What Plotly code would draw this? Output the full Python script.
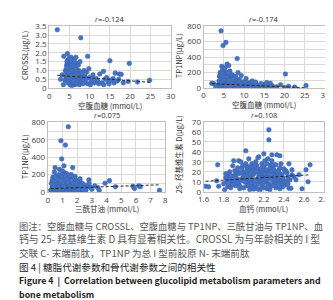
import plotly.graph_objects as go

W, H = 333, 300

# ---------------- data ----------------
fbg1 = [4.6,4.8,5.0,5.2,5.4,5.6,5.8,6.0,6.2,6.4,6.6,4.7,5.1,5.5,5.9,6.3,4.9,5.3,5.7,6.1,6.5,6.9,7.1,7.3,7.5,7.7,4.4,4.2,4.0,3.9,4.3,4.6,5.0,5.4,5.8,6.2,6.8,7.2,6.7,7.0,7.8,8.0,8.2,8.5,8.8,9.0,9.3,9.6,10.0,10.4,10.8,11.2,11.6,12.0,12.5,13.0,13.4,13.8,14.2,14.6,15.2,15.8,16.3,16.8,17.3,17.8,18.3,19.5,21.8,24.8,2.0,7.8,9.5,15.0,19.8,3.6,4.5,5.2,5.6,6.3,4.8,5.3,5.9,6.5,5.1,5.7,6.0,4.5,6.8,7.4,8.3,3.5,3.2,2.8,8.6,9.2,10.2,11.0,12.2,13.5,14.8,16.0,17.2,9.8,7.6,6.6,5.0,
        4.2,4.4,4.6,4.8,5.0,5.2,5.4,5.6,5.8,6.0,6.2,6.4,6.6,6.8,7.0,4.3,4.5,4.7,4.9,5.1,5.3,5.5,5.7,5.9,6.1,6.3,6.5,6.7,6.9,7.1,4.4,4.8,5.2,5.6,6.0,6.4,6.8,7.2,5.0,5.4,5.8,6.2,6.6,5.3,5.7,6.1,4.6,5.0,5.5,6.0]
crossl = [0.5,0.7,0.9,1.1,0.6,0.8,1.0,0.5,0.7,0.9,1.2,1.0,1.3,1.5,1.3,1.4,0.35,0.3,0.4,0.3,0.45,0.6,0.8,1.0,0.5,0.7,0.8,0.6,1.0,0.45,1.3,1.6,1.7,1.75,1.6,1.65,1.4,1.3,1.0,0.3,0.35,0.9,0.6,0.45,0.7,0.3,0.55,0.25,0.6,0.4,0.75,0.3,0.55,0.4,0.8,0.3,0.95,0.5,0.6,0.35,0.45,0.55,0.85,0.4,0.8,0.78,0.3,0.38,0.35,0.45,3.3,2.85,1.8,1.55,1.4,1.8,1.95,0.2,0.15,0.2,1.25,0.95,0.7,0.6,0.55,1.15,0.95,0.4,0.25,0.2,0.25,0.2,0.75,0.5,1.0,0.9,0.2,0.45,0.25,0.2,0.25,0.3,0.5,1.1,1.5,1.75,1.45,
          0.9,0.6,1.2,0.45,1.05,0.75,1.35,0.5,0.85,1.15,0.4,1.25,0.55,0.95,0.65,1.15,0.75,0.55,1.45,0.65,1.2,1.0,0.6,1.4,0.8,0.55,1.0,0.8,0.4,0.5,1.5,0.85,0.45,1.3,0.7,1.05,0.7,0.6,1.55,0.45,0.25,1.5,0.35,1.6,0.3,1.25,0.3,0.6,0.7,0.35]

fbg2 = [4.3,4.8,5.5,8.3,5.8,6.2,4.5,20.2,25.3,2.0,2.5,4.0,4.2,4.4,4.6,4.8,5.0,5.2,5.4,5.6,5.8,6.0,6.2,6.4,6.6,6.8,7.0,7.2,7.4,7.6,7.8,8.0,8.2,8.4,8.6,8.8,9.0,3.6,3.8,3.9,4.1,4.7,5.1,5.3,5.5,5.7,5.9,6.1,6.3,6.5,6.9,7.1,7.3,4.5,5.0,6.0,7.0,8.0,9.0,9.4,9.8,10.2,10.6,11.0,11.4,11.8,12.2,12.6,13.0,13.5,14.0,14.5,15.0,15.5,16.0,16.5,17.0,18.0,19.0,20.0,21.0,22.5,3.0,4.9,5.3,5.7,6.7,7.5,8.5,9.3,10.5,12.0,4.6,5.6,6.6,7.8,12.8,14.2,15.6,
        4.2,4.4,4.6,4.8,5.0,5.2,5.4,5.6,5.8,6.0,6.2,6.4,6.6,6.8,7.0,7.2,7.4,7.6,7.8,8.0,4.3,4.7,5.1,5.5,5.9,6.3,6.7,7.1,7.5,7.9,4.5,4.9,5.3,5.7,6.1,6.5,6.9,7.3,8.4,8.8,9.2,9.6,10.0,10.4,10.8,11.2,11.6,12.4,13.2,5.0,5.4,5.8,6.2,4.4,4.8]
tp1np_a = [740,550,590,380,310,290,280,180,30,60,55,20,60,100,140,180,220,40,80,120,160,200,30,70,110,150,50,90,20,130,60,100,30,70,40,110,20,40,90,150,200,240,160,260,20,60,100,140,180,220,30,170,60,10,5,8,5,10,60,30,80,15,50,25,70,10,40,20,55,10,30,5,45,20,10,60,25,15,40,5,20,10,10,90,130,190,80,140,200,160,120,90,35,45,15,110,75,55,70,
           120,40,80,30,160,100,180,60,20,120,80,40,160,100,130,30,100,70,20,50,170,70,60,170,50,110,40,120,40,150,70,140,100,150,200,20,80,110,20,80,50,10,40,70,30,45,15,35,25,110,25,140,100,200,150]

tg = [1.4,0.9,1.2,0.95,1.1,0.5,1.7,2.8,3.9,4.2,5.9,6.3,7.6,6.2,5.8,2.9,3.5,4.6,0.2,0.3,0.4,0.5,0.6,0.7,0.8,0.9,1.0,1.1,1.2,1.3,1.4,1.5,1.6,1.7,1.8,1.9,2.0,2.1,2.2,2.3,2.4,2.5,2.6,0.25,0.35,0.45,0.55,0.65,0.75,0.85,0.95,1.05,1.15,1.25,1.35,1.45,1.55,1.65,1.75,1.85,1.95,2.05,2.15,2.35,0.3,0.6,0.9,1.2,1.5,1.8,2.1,0.45,0.8,1.0,1.3,2.7,2.8,3.0,3.2,3.4,1.6,2.2,0.5,1.0,1.4,0.7,1.9,
      0.3,0.4,0.5,0.6,0.7,0.8,0.9,1.0,1.1,1.2,1.3,1.4,1.5,1.6,1.7,1.8,1.9,2.0,2.1,2.2,0.35,0.45,0.55,0.65,0.75,0.85,0.95,1.05,1.15,1.25,1.35,1.45,1.55,1.65,1.75,1.85,0.4,0.6,0.8,1.0,1.2,1.4,1.6,1.8,2.0,2.4,0.5,0.7,0.9,1.1,1.3]
tp1np_b = [750,590,540,380,300,280,280,140,100,130,40,60,20,70,65,55,20,60,20,60,100,140,180,30,70,110,150,200,40,80,120,160,20,60,100,140,30,70,110,20,50,80,20,100,170,30,80,120,200,150,50,90,220,160,20,60,100,140,30,180,60,120,40,100,10,5,10,5,8,5,10,230,260,240,210,60,100,30,70,50,200,150,50,25,35,90,15,
           130,50,100,40,160,110,60,200,90,140,50,170,70,120,40,150,90,60,30,80,40,130,180,20,60,100,170,130,70,40,110,190,140,60,100,50,70,160,20,100,180,40,130,60,90,30,170,140,130,60,150]

ca = [2.25,2.25,2.02,1.62,1.65,1.75,1.74,1.73,2.62,2.66,2.64,2.58,2.45,2.47,1.9,1.95,2.15,2.2,2.28,2.33,2.36,2.5,2.55,2.52,2.48,2.45,
      1.80,1.82,1.84,1.86,1.88,1.90,1.92,1.94,1.96,1.98,2.00,2.02,2.04,2.06,2.08,2.10,2.12,2.14,2.16,2.18,2.20,2.22,2.24,2.26,2.28,2.30,2.32,2.34,2.36,2.38,2.40,2.42,2.44,
      1.83,1.87,1.91,1.95,1.99,2.03,2.07,2.11,2.15,2.19,2.23,2.27,2.31,2.35,2.39,2.43,
      1.85,1.89,1.93,1.97,2.01,2.05,2.09,2.13,2.17,2.21,2.25,2.29,2.33,2.37,2.41,
      2.0,2.05,2.1,2.15,2.2,2.25,2.3,2.35,2.08,2.18,2.28,2.12,2.22,2.32,2.02,2.06,2.16,2.26,2.36,1.96,1.81,2.14,2.24,2.19,2.29,2.09,
      1.86,1.88,1.90,1.92,1.94,1.96,1.98,2.00,2.02,2.04,2.06,2.08,2.10,2.12,2.14,2.16,2.18,2.20,2.22,2.24,2.26,2.28,2.30,2.32,2.34,2.36,2.38,2.40,2.42,
      1.87,1.91,1.95,1.99,2.03,2.07,2.11,2.15,2.19,2.23,2.27,2.31,2.35,2.39,2.43,
      1.89,1.93,1.97,2.01,2.05,2.09,2.13,2.17,2.21,2.25,2.29,2.33,2.37,2.41,
      1.99,2.03,2.07,2.11,2.15,2.19,2.23,2.27,2.31,2.35,
      1.82,1.84,2.46,2.44,2.48,2.04,2.14,2.24,2.34,2.10,2.20,2.30]
vitd = [62,52,41,5.5,5,5.5,27,11,22,27,10,3,3.5,3.5,31,31,35,38,37,37,36,15,17,12,22,28,
        8,14,5,20,10,16,6,24,12,19,4,28,9,15,22,7,30,13,18,5,25,10,16,21,6,14,27,9,18,12,23,7,15,
        11,4,21,8,14,18,5,23,11,20,3,27,8,22,5,19,
        17,26,13,30,10,33,17,26,9,31,13,24,16,28,10,
        20,25,12,20,16,8,19,11,28,28,31,4,22,4,13,2,1.5,2,3,3,2,34,33,14,11,21,
        13,7,11,17,20,6,24,15,10,21,12,9,18,25,8,22,14,11,19,7,24,16,22,12,13,24,17,9,21,
        16,14,18,11,24,13,8,16,8,14,20,12,17,14,11,
        7,9,19,16,13,25,20,23,18,18,6,19,8,20,
        26,6,19,27,14,25,28,17,15,7,
        18,9,12,8,17,6,3,5,20,2.5,4,27]

trend1_x, trend1_y = [2.0, 25.0], [0.73, 0.33]
trend2_x, trend2_y = [2.0, 25.0], [55, 2]
trend3_x, trend3_y = [0.2, 7.6], [38, 82]
trend4_x, trend4_y = [1.62, 2.66], [10.5, 17.0]

titles = ["<i>r</i>=-0.124", "<i>r</i>=-0.174", "<i>r</i>=0.075", "<i>r</i>=0.108"]
xtitles = ["空腹血糖 (mmol/L)", "空腹血糖 (mmol/L)", "三酰甘油 (mmol/L)", "血钙 (mmol/L)"]
ytitles = ["CROSSL(μg/L)", "TP1NP(μg/L)", "TP1NP(μg/L)", "25- 羟基维生素 D(μg/L)"]

caption = [
    ("图注：空腹血糖与 CROSSL、空腹血糖与 TP1NP、三酰甘油与 TP1NP、血", "#555555", False, 9.3),
    ("钙与 25- 羟基维生素 D 具有显著相关性。CROSSL 为与年龄相关的 I 型", "#555555", False, 9.8),
    ("交联 C- 末端前肽，TP1NP 为总 I 型前胶原 N- 末端前肽", "#555555", False, 9.6),
    ("图 4 | 糖脂代谢参数和骨代谢参数之间的相关性", "#222222", False, 9.6),
    ("Figure 4  |  Correlation between glucolipid metabolism parameters and", "#222222", True, 8.75),
    ("bone metabolism", "#222222", True, 8.75),
]

# ---------------- layout helpers (pixel -> paper) ----------------
def px(x):
    return x / W

def py(y):
    return 1 - y / H

FONT = "Open Sans, Noto Sans CJK SC, sans-serif"
CJK = "Noto Sans CJK SC, sans-serif"
BLUE = "#4472c4"
TICK = "#404040"

panels = [
    dict(x=fbg1, y=crossl, tx=trend1_x, ty=trend1_y, xd=(36.5, 162.5), yd=(12.7, 77.0),
         xr=[0, 30], xt=5, yr=[0, 3.5], yt=0.5, ylab=0.5, yfmt="%.1f"),
    dict(x=fbg2, y=tp1np_a, tx=trend2_x, ty=trend2_y, xd=(196.7, 322.7), yd=(12.7, 76.7),
         xr=[0, 30], xt=5, yr=[0, 800], yt=100, ylab=200, yfmt="%g"),
    dict(x=tg, y=tp1np_b, tx=trend3_x, ty=trend3_y, xd=(35.0, 157.0), yd=(112.6, 184.7),
         xr=[0, 8], xt=1, yr=[0, 800], yt=100, ylab=200, yfmt="%g"),
    dict(x=ca, y=vitd, tx=trend4_x, ty=trend4_y, xd=(196.7, 321.7), yd=(112.0, 184.5),
         xr=[1.6, 2.8], xt=0.2, yr=[0, 70], yt=10, ylab=10, yfmt="%g"),
]

fig = go.Figure()
layout = dict(width=W, height=H, margin=dict(l=0, r=0, t=0, b=0),
              paper_bgcolor="white", plot_bgcolor="white", showlegend=False,
              font=dict(family=FONT, size=8, color=TICK))
annotations = []

for i, p in enumerate(panels):
    n = "" if i == 0 else str(i + 1)
    xa, ya = "x" + n, "y" + n
    fig.add_trace(go.Scatter(x=p["x"], y=p["y"], mode="markers", xaxis=xa, yaxis=ya,
                             marker=dict(size=4.6, color=BLUE, opacity=1,
                                         line=dict(width=0.5, color="#3a63ad"))))
    fig.add_trace(go.Scatter(x=p["tx"], y=p["ty"], mode="lines", xaxis=xa, yaxis=ya,
                             line=dict(color="#262626", width=1, dash="3px,2px")))
    yvals, v = [], p["yr"][0]
    while v <= p["yr"][1] + 1e-9:
        yvals.append(round(v, 4)); v += p["yt"]
    ylabs = []
    for v in yvals:
        k = round(v / p["ylab"], 6)
        if abs(k - round(k)) < 1e-6:
            ylabs.append("0" if v == 0 else (p["yfmt"] % v))
        else:
            ylabs.append("")
    xvals, v = [], p["xr"][0]
    while v <= p["xr"][1] + 1e-9:
        xvals.append(round(v, 4)); v += p["xt"]
    xlabs = [("%.1f" % v) if p["xt"] < 1 else ("%g" % v) for v in xvals]
    layout["xaxis" + n] = dict(domain=[px(p["xd"][0]), px(p["xd"][1])], range=p["xr"],
                               anchor=ya, tickmode="array", tickvals=xvals, ticktext=xlabs,
                               showgrid=True, gridcolor="#d9d9d9", gridwidth=1,
                               showline=True, linecolor="#bfbfbf", linewidth=1, mirror=True,
                               zeroline=False, ticks="", ticklen=0,
                               tickfont=dict(size=8, color=TICK, family=FONT))
    layout["yaxis" + n] = dict(domain=[py(p["yd"][1]), py(p["yd"][0])], range=p["yr"],
                               anchor=xa, tickmode="array", tickvals=yvals, ticktext=ylabs,
                               showgrid=True, gridcolor="#d9d9d9", gridwidth=1,
                               showline=True, linecolor="#bfbfbf", linewidth=1, mirror=True,
                               zeroline=False, ticks="", ticklen=0,
                               tickfont=dict(size=8, color=TICK, family=FONT))
    cx = px((p["xd"][0] + p["xd"][1]) / 2)
    annotations.append(dict(text=titles[i], x=cx, y=py(p["yd"][0] - 7.5), xref="paper", yref="paper",
                            showarrow=False, xanchor="center", yanchor="middle",
                            font=dict(size=7.5, color="#333333", family=FONT)))
    annotations.append(dict(text=xtitles[i], x=cx, y=py(p["yd"][1] + 17.5), xref="paper", yref="paper",
                            showarrow=False, xanchor="center", yanchor="middle",
                            font=dict(size=7.5, color="#333333", family=CJK)))

ytitle_pos = [(11, 43), (171, 43), (11, 148), (171, 146)]
for i, (xx, yy) in enumerate(ytitle_pos):
    annotations.append(dict(text=ytitles[i], x=px(xx), y=py(yy), xref="paper", yref="paper",
                            showarrow=False, xanchor="center", yanchor="middle", textangle=-90,
                            font=dict(size=7.5, color="#333333", family=CJK)))

cap_y = [220, 234, 248, 262.5, 277, 291]
for (txt, col, bold, fs), yy in zip(caption, cap_y):
    t = "<b>" + txt + "</b>" if bold else txt
    annotations.append(dict(text=t, x=px(3), y=py(yy), xref="paper", yref="paper",
                            showarrow=False, xanchor="left", yanchor="middle",
                            font=dict(size=fs, color=col, family=CJK)))

layout["annotations"] = annotations
fig.update_layout(**layout)
fig.write_html("out.html")
